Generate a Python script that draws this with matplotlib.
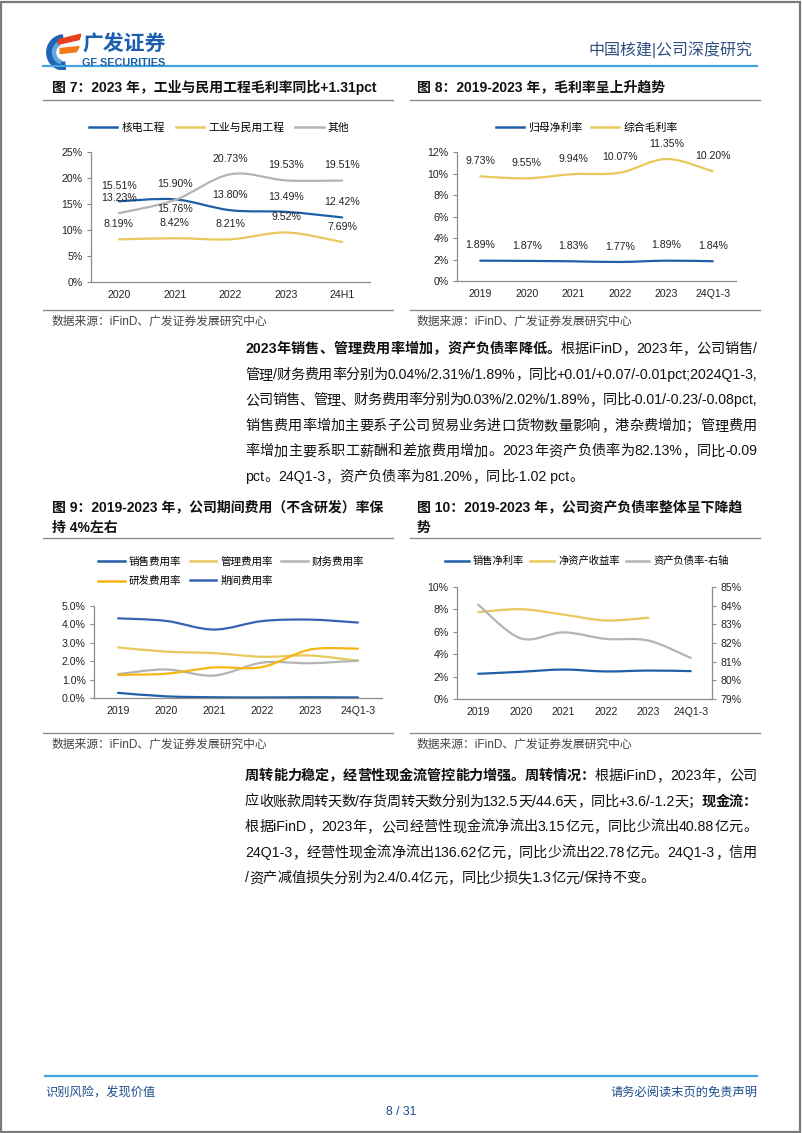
import numpy as np
import matplotlib
matplotlib.use("Agg")
import matplotlib.pyplot as plt
from matplotlib.path import Path
from matplotlib.patches import PathPatch, Rectangle, Wedge, Polygon
from matplotlib.lines import Line2D

CJK = ["Liberation Sans", "Noto Sans CJK SC"]
plt.rcParams["font.family"] = CJK

# ---------------- data ----------------
years7 = ["2020", "2021", "2022", "2023", "24H1"]
nuclear = [15.51, 15.90, 13.80, 13.49, 12.42]
civil = [8.19, 8.42, 8.21, 9.52, 7.69]
other = [13.23, 15.76, 20.73, 19.53, 19.51]

years8 = ["2019", "2020", "2021", "2022", "2023", "24Q1-3"]
net_margin_parent = [1.89, 1.87, 1.83, 1.77, 1.89, 1.84]
gross_margin = [9.73, 9.55, 9.94, 10.07, 11.35, 10.20]

years9 = ["2019", "2020", "2021", "2022", "2023", "24Q1-3"]
sales_exp = [0.28, 0.09, 0.04, 0.03, 0.04, 0.03]
admin_exp = [2.75, 2.52, 2.44, 2.24, 2.31, 2.02]
fin_exp = [1.30, 1.55, 1.22, 1.92, 1.89, 2.03]
rd_exp = [1.26, 1.32, 1.66, 1.68, 2.63, 2.68]
period_exp = [4.33, 4.19, 3.72, 4.18, 4.26, 4.10]

years10 = ["2019", "2020", "2021", "2022", "2023", "24Q1-3"]
net_margin = [2.25, 2.43, 2.63, 2.46, 2.54, 2.49]
roe = [7.75, 8.02, 7.54, 7.01, 7.25]
debt_ratio = [84.05, 82.25, 82.57, 82.22, 82.13, 81.20]

# ---------------- colours ----------------
BLUE = "#1F5FA6"
YELLOW = "#E9C85C"
GRAY = "#B4B4B4"
ORANGE = "#F5B60F"
ROYAL = "#3762B5"
AXIS = "#8C8C8C"
HEAD = "#1C5FAE"

W, H = 802, 1133
fig = plt.figure(figsize=(W / 100, H / 100), dpi=100)
renderer = fig.canvas.get_renderer()


def fx(x):
    return x / W


def fy(y):
    return 1 - y / H


def txt(x, y, s, **kw):
    kw.setdefault("va", "center")
    kw.setdefault("family", CJK)
    return fig.text(fx(x), fy(y), s, **kw)


def hline(x0, x1, y, color, lw=1.0):
    fig.add_artist(Line2D([fx(x0), fx(x1)], [fy(y), fy(y)], color=color, lw=lw))


def add_ax(left, top, right, bottom):
    return fig.add_axes([left / W, 1 - bottom / H, (right - left) / W, (bottom - top) / H])


def smooth(ax, ys, color, lw=1.6):
    pts = np.column_stack([np.arange(len(ys)), ys]).astype(float)
    verts, codes = [pts[0]], [Path.MOVETO]
    for i in range(len(pts) - 1):
        p0 = pts[i - 1] if i > 0 else pts[i]
        p1, p2 = pts[i], pts[i + 1]
        p3 = pts[i + 2] if i + 2 < len(pts) else pts[i + 1]
        verts += [p1 + (p2 - p0) / 6, p2 - (p3 - p1) / 6, p2]
        codes += [Path.CURVE4] * 3
    ax.add_patch(PathPatch(Path(verts, codes), fill=False, edgecolor=color,
                           lw=lw, capstyle="round", joinstyle="round"))


def style_ax(ax, cats, ylim, yticks, fmt):
    ax.set_xlim(-0.5, len(cats) - 0.5)
    ax.set_ylim(*ylim)
    ax.set_xticks(range(len(cats)))
    ax.set_xticklabels(cats, fontsize=7.6, color="#222")
    ax.set_yticks(yticks)
    ax.set_yticklabels([fmt.format(v) for v in yticks], fontsize=7.6, color="#222")
    ax.tick_params(axis="x", length=0, pad=6)
    ax.tick_params(axis="y", length=3, width=0.8, color=AXIS, pad=3)
    for s in ["top", "right"]:
        ax.spines[s].set_visible(False)
    for s in ["left", "bottom"]:
        ax.spines[s].set_color(AXIS)
        ax.spines[s].set_linewidth(0.9)
    ax.patch.set_alpha(0)


def labels(ax, ys, dy=11, special=None):
    for i, v in enumerate(ys):
        off = dy
        if special and i in special:
            off = special[i]
        ax.annotate(f"{v:.2f}%", (i, v), xytext=(0, off), textcoords="offset points",
                    ha="center", va="center", fontsize=7.6, color="#222")


def legend(ax, items, anchor, ncol, fs=7.8, hl=2.6, cs=1.0):
    handles = [Line2D([], [], color=c, lw=1.8) for _, c in items]
    ax.legend(handles, [n for n, _ in items], loc="center", bbox_to_anchor=anchor,
              ncol=ncol, frameon=False, handlelength=hl,
              handletextpad=0.4, columnspacing=cs, borderaxespad=0,
              labelspacing=0.3, prop={"family": ["Noto Sans CJK SC"], "size": fs})


# ---------------- page frame & header ----------------
fig.add_artist(Rectangle((0.001, 0.001), 0.997, 0.997, transform=fig.transFigure,
                         fill=False, edgecolor="#7A7A7A", lw=1.6))

logo = add_ax(43, 31, 81, 70)
logo.set_xlim(0, 1)
logo.set_ylim(0, 1)
logo.axis("off")
logo.add_patch(Wedge((0.55, 0.45), 0.45, 95, 275, width=0.2, color="#1E63B5"))
logo.add_patch(Wedge((0.55, 0.45), 0.30, 120, 250, width=0.08, color="#5FA8E0"))
logo.add_patch(Polygon([[0.42, 0.78], [1.0, 0.92], [0.95, 0.78], [0.40, 0.66]], color="#E8401C"))
logo.add_patch(Polygon([[0.45, 0.55], [0.95, 0.60], [0.88, 0.47], [0.45, 0.42]], color="#F07A1A"))

txt(82, 45, "广发证券", fontsize=15, weight="bold", color=HEAD)
txt(82, 63, "GF SECURITIES", fontsize=7.8, weight="bold", color=HEAD, family=["Liberation Sans"])
txt(752, 50, "中国核建|公司深度研究", fontsize=11.5, color="#2E4F80", ha="right")
hline(43, 757, 66, "#45A6DC", lw=1.6)

# ---------------- chart titles ----------------
TS = 10
txt(52, 87, "图 7：2023 年，工业与民用工程毛利率同比+1.31pct", fontsize=TS, weight="bold", color="#111")
txt(417, 87, "图 8：2019-2023 年，毛利率呈上升趋势", fontsize=TS, weight="bold", color="#111")
hline(43, 393, 100, "#8A8A8A", 1.0)
hline(410, 760, 100, "#8A8A8A", 1.0)
hline(43, 393, 310, "#8A8A8A", 1.0)
hline(410, 760, 310, "#8A8A8A", 1.0)
txt(52, 322, "数据来源：iFinD、广发证券发展研究中心", fontsize=8.5, color="#444")
txt(417, 322, "数据来源：iFinD、广发证券发展研究中心", fontsize=8.5, color="#444")

txt(52, 507, "图 9：2019-2023 年，公司期间费用（不含研发）率保", fontsize=TS, weight="bold", color="#111")
txt(52, 528, "持 4%左右", fontsize=TS, weight="bold", color="#111")
txt(417, 507, "图 10：2019-2023 年，公司资产负债率整体呈下降趋", fontsize=TS, weight="bold", color="#111")
txt(417, 528, "势", fontsize=TS, weight="bold", color="#111")
hline(43, 393, 538, "#8A8A8A", 1.0)
hline(410, 760, 538, "#8A8A8A", 1.0)
hline(43, 393, 733, "#8A8A8A", 1.0)
hline(410, 760, 733, "#8A8A8A", 1.0)
txt(52, 745, "数据来源：iFinD、广发证券发展研究中心", fontsize=8.5, color="#444")
txt(417, 745, "数据来源：iFinD、广发证券发展研究中心", fontsize=8.5, color="#444")

# ---------------- chart 7 ----------------
ax7 = add_ax(91, 152, 370, 282)
style_ax(ax7, years7, (0, 25), [0, 5, 10, 15, 20, 25], "{:.0f}%")
smooth(ax7, nuclear, BLUE)
smooth(ax7, civil, YELLOW)
smooth(ax7, other, GRAY)
labels(ax7, nuclear)
labels(ax7, civil)
labels(ax7, other, special={1: -6.5})
legend(ax7, [("核电工程", BLUE), ("工业与民用工程", YELLOW), ("其他", GRAY)],
       (0.46, 1.19), 3)

# ---------------- chart 8 ----------------
ax8 = add_ax(457, 152, 736, 281)
style_ax(ax8, years8, (0, 12), [0, 2, 4, 6, 8, 10, 12], "{:.0f}%")
smooth(ax8, net_margin_parent, BLUE)
smooth(ax8, gross_margin, YELLOW)
labels(ax8, net_margin_parent)
labels(ax8, gross_margin)
legend(ax8, [("归母净利率", BLUE), ("综合毛利率", YELLOW)], (0.465, 1.19), 2, cs=0.8)

# ---------------- chart 9 ----------------
ax9 = add_ax(94, 606, 382, 698)
style_ax(ax9, years9, (0, 5), [0, 1, 2, 3, 4, 5], "{:.1f}%")
smooth(ax9, sales_exp, BLUE)
smooth(ax9, admin_exp, YELLOW)
smooth(ax9, fin_exp, GRAY)
smooth(ax9, rd_exp, ORANGE)
smooth(ax9, period_exp, ROYAL)
handles = [Line2D([], [], color=c, lw=1.8) for c in [BLUE, ORANGE, YELLOW, ROYAL, GRAY]]
ax9.legend(handles, ["销售费用率", "研发费用率", "管理费用率", "期间费用率", "财务费用率"],
           loc="upper left", bbox_to_anchor=(0.0, 1.58), ncol=3, frameon=False,
           handlelength=2.5, handletextpad=0.4, columnspacing=0.8, borderaxespad=0,
           labelspacing=0.85, prop={"family": ["Noto Sans CJK SC"], "size": 7.6})

# ---------------- chart 10 ----------------
ax10 = add_ax(457, 587, 712, 699)
style_ax(ax10, years10, (0, 10), [0, 2, 4, 6, 8, 10], "{:.0f}%")
ax10b = ax10.twinx()
ax10b.set_ylim(79, 85)
ax10b.set_yticks([79, 80, 81, 82, 83, 84, 85])
ax10b.set_yticklabels([f"{v}%" for v in [79, 80, 81, 82, 83, 84, 85]], fontsize=7.6, color="#222")
ax10b.tick_params(axis="y", length=3, width=0.8, color=AXIS, pad=3)
for s in ["top", "left", "bottom"]:
    ax10b.spines[s].set_visible(False)
ax10b.spines["right"].set_color(AXIS)
ax10b.spines["right"].set_linewidth(0.9)
smooth(ax10, net_margin, BLUE)
smooth(ax10, roe, YELLOW)
smooth(ax10b, debt_ratio, GRAY)
legend(ax10, [("销售净利率", BLUE), ("净资产收益率", YELLOW), ("资产负债率-右轴", GRAY)],
       (0.51, 1.23), 3, fs=7.4, hl=2.3, cs=0.6)

# ---------------- body text ----------------
BODY = 10.2
X0, X1 = 245, 757


def split_tokens(runs):
    out = []
    for s, w in runs:
        buf = ""
        for ch in s:
            if ord(ch) < 128:
                buf += ch
            else:
                if buf:
                    out.append((buf, w))
                    buf = ""
                out.append((ch, w))
        if buf:
            out.append((buf, w))
    return out


def body_line(y, runs, justify=True):
    toks = split_tokens(runs)
    items = []
    for s, w in toks:
        t = txt(X0, y, s, fontsize=BODY, weight=w, color="#111")
        items.append((t, t.get_window_extent(renderer).width))
    total = sum(wd for _, wd in items)
    gap = (X1 - X0 - total) / (len(items) - 1) if justify and len(items) > 1 else 0
    x = X0
    for t, wd in items:
        t.set_x(fx(x))
        x += wd + gap


para1 = [
    [("2023年销售、管理费用率增加，资产负债率降低。", "bold"), ("根据iFinD，2023年，公司销售/", "normal")],
    [("管理/财务费用率分别为0.04%/2.31%/1.89%，同比+0.01/+0.07/-0.01pct;2024Q1-3,", "normal")],
    [("公司销售、管理、财务费用率分别为0.03%/2.02%/1.89%，同比-0.01/-0.23/-0.08pct,", "normal")],
    [("销售费用率增加主要系子公司贸易业务进口货物数量影响，港杂费增加；管理费用", "normal")],
    [("率增加主要系职工薪酬和差旅费用增加。2023年资产负债率为82.13%，同比-0.09", "normal")],
    [("pct。24Q1-3，资产负债率为81.20%，同比-1.02 pct。", "normal")],
]
for i, line in enumerate(para1):
    body_line(349 + 25.6 * i, line, justify=i < len(para1) - 1)

para2 = [
    [("周转能力稳定，经营性现金流管控能力增强。周转情况：", "bold"), ("根据iFinD，2023年，公司", "normal")],
    [("应收账款周转天数/存货周转天数分别为132.5天/44.6天，同比+3.6/-1.2天；", "normal"), ("现金流：", "bold")],
    [("根据iFinD，2023年，公司经营性现金流净流出3.15亿元，同比少流出40.88亿元。", "normal")],
    [("24Q1-3，经营性现金流净流出136.62亿元，同比少流出22.78亿元。24Q1-3，信用", "normal")],
    [("/资产减值损失分别为2.4/0.4亿元，同比少损失1.3亿元/保持不变。", "normal")],
]
for i, line in enumerate(para2):
    body_line(776 + 25.6 * i, line, justify=i < len(para2) - 1)

# ---------------- footer ----------------
hline(45, 757, 1076, "#45A6DC", lw=1.6)
txt(45, 1093, "识别风险，发现价值", fontsize=8.8, color="#1F4E8C")
txt(757, 1093, "请务必阅读末页的免责声明", fontsize=8.8, color="#1F4E8C", ha="right")
txt(401, 1112, "8 / 31", fontsize=8.8, color="#1F4E8C", ha="center")

fig.savefig("out.png", dpi=100)
